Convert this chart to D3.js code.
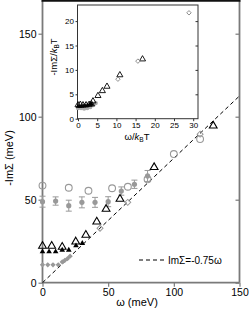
<!DOCTYPE html>
<html>
<head>
<meta charset="UTF-8">
<script src="https://d3js.org/d3.v7.min.js"></script>
<style>
  body { margin: 0; background: #fff; }
  text { font-family: "Liberation Sans", Arial, sans-serif; }
</style>
</head>
<body>
<div id="chart"></div>
<script>
// main panel data (omega in meV, -ImSigma in meV)
var openCircW = [0, 20, 35, 53, 65, 80, 100, 120];
var openCircV = [58.5, 57.2, 55.4, 56.9, 57.8, 62.3, 77.5, 86.5];
var dotW = [0, 10, 20, 30, 40, 50, 60, 70, 80];
var dotV = [48.8, 49.2, 46.4, 48.4, 48.4, 48.8, 55.2, 59.3, 64.3];
var dotErr = [3.3, 2.5, 3.3, 3.3, 3, 3, 2.5, 2.5, 3.3];
var openTriW = [0, 7, 15, 25.3, 33, 41.3, 48.4, 59, 85, 130];
var openTriV = [22.1, 22.1, 21.5, 24.7, 28.7, 36.7, 44.4, 50.4, 69.5, 94.5];
var fillTriW = [0, 5, 10, 15, 20, 25.5, 30.3];
var fillTriV = [18.7, 18.7, 18.7, 19.7, 19.7, 22.3, 23.7];
var grayDiaW = [0, 4, 8, 12, 15, 17, 19, 21];
var grayDiaV = [10.8, 10.8, 10.8, 10.8, 12.5, 13.5, 14.5, 16];
var openDiaW = [43.8, 64.9, 120];
var openDiaV = [32.8, 48.4, 89.5];
var xTicks = [0, 50, 100, 150];
var yTicks = [0, 50, 100, 150];

// inset data (omega/kBT, -ImSigma/kBT)
var inDiaU = [10.4, 15.6, 28.9];
var inDiaV = [8.1, 11.8, 21.7];
var inTriU = [0, 0.6, 1.3, 2.1, 2.9, 3.5, 3.9, 5.2, 6.35, 7.55, 10.9, 16.8];
var inTriV = [2.8, 2.9, 2.8, 2.8, 2.9, 3.0, 3.6, 4.7, 5.7, 6.6, 8.95, 12.2];
var inFillTriU = [0, 0.5, 1, 1.5, 2, 2.5, 3, 3.5];
var inFillTriV = [2.5, 2.5, 2.5, 2.6, 2.6, 2.8, 2.9, 3.0];
var inDotU = [0, 0.8, 1.6, 2.4, 3.2, 4, 4.6];
var inDotV = [2.2, 2.2, 2.1, 2.2, 2.4, 2.8, 3.2];
var inXTicks = [0, 5, 10, 15, 20, 25, 30];
var inYTicks = [0, 5, 10, 15, 20];

var W = 249, H = 316;
var gray = "#999", axisCol = "#7a7a7a";

var svg = d3.select("#chart").append("svg")
    .attr("width", W).attr("height", H);

var x = d3.scaleLinear().domain([0, 150]).range([42.5, 239.5]);
var y = d3.scaleLinear().domain([0, 170]).range([282.7, 0.5]);

function pairs(a, b) { return a.map(function (d, i) { return [d, b[i]]; }); }

// axes
var gx = svg.append("g").attr("transform", "translate(0," + y(0) + ")")
    .call(d3.axisBottom(x).tickValues(xTicks).tickSize(4).tickPadding(2));
var gy = svg.append("g").attr("transform", "translate(" + x(0) + ",0)")
    .call(d3.axisLeft(y).tickValues(yTicks).tickSize(4).tickPadding(2));
var gr = svg.append("g").attr("transform", "translate(" + x(150) + ",0)")
    .call(d3.axisRight(y).tickValues(yTicks).tickSize(-4).tickFormat(""));
[gx, gy, gr].forEach(function (g) {
  g.select(".domain").remove();
  g.selectAll("line").attr("stroke", axisCol).attr("stroke-width", 1.2);
  g.selectAll("text").attr("font-size", 10.5).attr("fill", "#000");
});
svg.append("line").attr("x1", x(0)).attr("x2", x(0)).attr("y1", y(170)).attr("y2", y(0))
    .attr("stroke", axisCol).attr("stroke-width", 1.8);
svg.append("line").attr("x1", x(150)).attr("x2", x(150)).attr("y1", y(170)).attr("y2", y(0))
    .attr("stroke", axisCol).attr("stroke-width", 1.8);
svg.append("line").attr("x1", x(0)).attr("x2", x(150)).attr("y1", y(0)).attr("y2", y(0))
    .attr("stroke", axisCol).attr("stroke-width", 1.8);
svg.append("line").attr("x1", x(0) - 1).attr("x2", x(150) + 1).attr("y1", 0.8).attr("y2", 0.8)
    .attr("stroke", "#111").attr("stroke-width", 1.8);

// dashed line ImSigma = -0.75 omega
svg.append("path")
    .datum([[0, 0], [150, 112.5]])
    .attr("d", d3.line().x(function (d) { return x(d[0]); }).y(function (d) { return y(d[1]); }))
    .attr("stroke", "#000").attr("stroke-width", 1).attr("stroke-dasharray", "4,3").attr("fill", "none");

var tri = d3.symbol().type(d3.symbolTriangle);
var sq = d3.symbol().type(d3.symbolSquare);

// filled gray diamonds
svg.append("g").selectAll("path").data(pairs(grayDiaW, grayDiaV)).join("path")
    .attr("d", sq.size(14)())
    .attr("transform", function (d) { return "translate(" + x(d[0]) + "," + y(d[1]) + ") rotate(45)"; })
    .attr("fill", gray);

// error bars + gray dots
var eb = svg.append("g").attr("stroke", gray).attr("stroke-width", 1);
dotW.forEach(function (w, i) {
  var cx = x(w), y1 = y(dotV[i] - dotErr[i]), y2 = y(dotV[i] + dotErr[i]);
  eb.append("line").attr("x1", cx).attr("x2", cx).attr("y1", y1).attr("y2", y2);
  eb.append("line").attr("x1", cx - 3).attr("x2", cx + 3).attr("y1", y1).attr("y2", y1);
  eb.append("line").attr("x1", cx - 3).attr("x2", cx + 3).attr("y1", y2).attr("y2", y2);
});
svg.append("g").selectAll("circle").data(pairs(dotW, dotV)).join("circle")
    .attr("cx", function (d) { return x(d[0]); }).attr("cy", function (d) { return y(d[1]); })
    .attr("r", 2.6).attr("fill", gray);

// open gray circles
svg.append("g").selectAll("circle").data(pairs(openCircW, openCircV)).join("circle")
    .attr("cx", function (d) { return x(d[0]); }).attr("cy", function (d) { return y(d[1]); })
    .attr("r", 3.4).attr("fill", "none").attr("stroke", gray).attr("stroke-width", 1.1);

// open gray diamonds
svg.append("g").selectAll("path").data(pairs(openDiaW, openDiaV)).join("path")
    .attr("d", sq.size(18)())
    .attr("transform", function (d) { return "translate(" + x(d[0]) + "," + y(d[1]) + ") rotate(45)"; })
    .attr("fill", "none").attr("stroke", gray).attr("stroke-width", 1);

// filled black triangles
svg.append("g").selectAll("path").data(pairs(fillTriW, fillTriV)).join("path")
    .attr("d", tri.size(14)())
    .attr("transform", function (d) { return "translate(" + x(d[0]) + "," + y(d[1]) + ")"; })
    .attr("fill", "#000");

// open black triangles
svg.append("g").selectAll("path").data(pairs(openTriW, openTriV)).join("path")
    .attr("d", tri.size(26)())
    .attr("transform", function (d) { return "translate(" + x(d[0]) + "," + y(d[1]) + ")"; })
    .attr("fill", "none").attr("stroke", "#000").attr("stroke-width", 1.1);

// legend
svg.append("line").attr("x1", 139).attr("x2", 164).attr("y1", 260).attr("y2", 260)
    .attr("stroke", "#000").attr("stroke-width", 1).attr("stroke-dasharray", "4,3");
svg.append("text").attr("x", 168).attr("y", 264).attr("font-size", 10).text("ImΣ=-0.75ω");

// axis labels
svg.append("text").attr("x", 137).attr("y", 306).attr("text-anchor", "middle")
    .attr("font-size", 11).text("ω  (meV)");
svg.append("text").attr("transform", "translate(13,158) rotate(-90)").attr("text-anchor", "middle")
    .attr("font-size", 11).text("-ImΣ  (meV)");

// ---- inset ----
var xi = d3.scaleLinear().domain([0, 31.25]).range([78, 198]);
var yi = d3.scaleLinear().domain([0, 23.3]).range([118.7, 5]);
var ins = svg.append("g");
ins.append("rect").attr("x", xi(0) - 0.5).attr("y", yi(23.3)).attr("width", xi(31.25) - xi(0) + 0.5)
    .attr("height", yi(0) - yi(23.3)).attr("fill", "#fff").attr("stroke", "#333").attr("stroke-width", 1);

var ix = ins.append("g").attr("transform", "translate(0," + yi(0) + ")")
    .call(d3.axisBottom(xi).tickValues(inXTicks).tickSize(2.5).tickPadding(1.5));
var iy = ins.append("g").attr("transform", "translate(" + xi(0) + ",0)")
    .call(d3.axisLeft(yi).tickValues(inYTicks).tickSize(2.5).tickPadding(1.5));
var iyr = ins.append("g").attr("transform", "translate(" + xi(31.25) + ",0)")
    .call(d3.axisRight(yi).tickValues(inYTicks.slice(1)).tickSize(-2.5).tickFormat(""));
[ix, iy, iyr].forEach(function (g) {
  g.select(".domain").remove();
  g.selectAll("line").attr("stroke", "#333");
  g.selectAll("text").attr("font-size", 8).attr("fill", "#000");
});

ins.append("g").selectAll("circle").data(pairs(inDotU, inDotV)).join("circle")
    .attr("cx", function (d) { return xi(d[0]); }).attr("cy", function (d) { return yi(d[1]); })
    .attr("r", 2.2).attr("fill", "#aaa");
ins.append("g").selectAll("path").data(pairs(inFillTriU, inFillTriV)).join("path")
    .attr("d", tri.size(9)())
    .attr("transform", function (d) { return "translate(" + xi(d[0]) + "," + yi(d[1]) + ")"; })
    .attr("fill", "#000");
ins.append("g").selectAll("path").data(pairs(inTriU, inTriV)).join("path")
    .attr("d", tri.size(16)())
    .attr("transform", function (d) { return "translate(" + xi(d[0]) + "," + yi(d[1]) + ")"; })
    .attr("fill", "none").attr("stroke", "#000").attr("stroke-width", 0.9);
ins.append("g").selectAll("path").data(pairs(inDiaU, inDiaV)).join("path")
    .attr("d", sq.size(10)())
    .attr("transform", function (d) { return "translate(" + xi(d[0]) + "," + yi(d[1]) + ") rotate(45)"; })
    .attr("fill", "none").attr("stroke", "#888").attr("stroke-width", 0.9);

// inset labels
var il = ins.append("text").attr("x", 137).attr("y", 140).attr("text-anchor", "middle").attr("font-size", 9.5);
il.append("tspan").text("ω/");
il.append("tspan").attr("font-style", "italic").text("k");
il.append("tspan").attr("font-size", 6.5).attr("dy", 2).text("B");
il.append("tspan").attr("dy", -2).text("T");
var iyl = ins.append("text").attr("transform", "translate(57,57) rotate(-90)").attr("text-anchor", "middle").attr("font-size", 9.5);
iyl.append("tspan").text("-ImΣ/");
iyl.append("tspan").attr("font-style", "italic").text("k");
iyl.append("tspan").attr("font-size", 6.5).attr("dy", 2).text("B");
iyl.append("tspan").attr("dy", -2).text("T");
</script>
</body>
</html>
